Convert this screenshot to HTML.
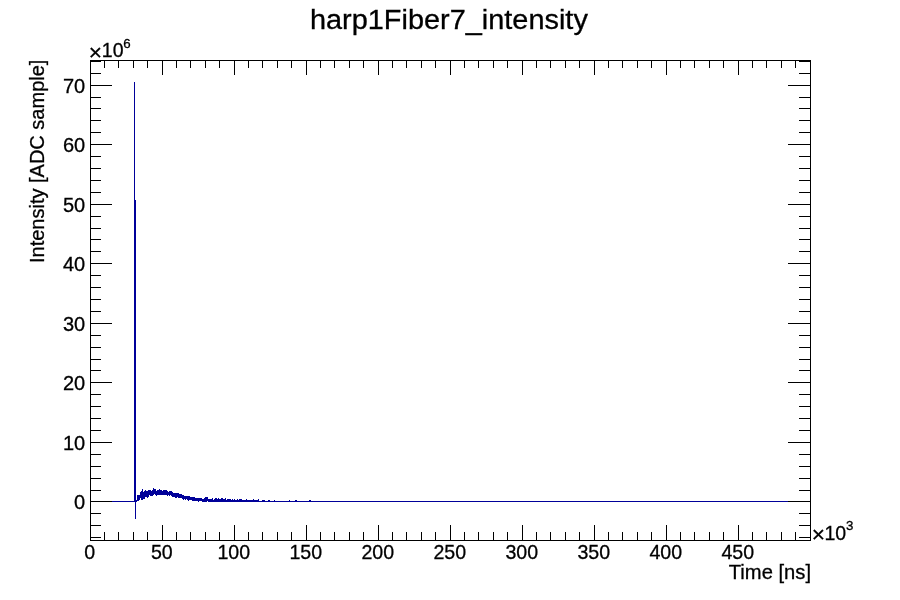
<!DOCTYPE html>
<html><head><meta charset="utf-8"><title>harp1Fiber7_intensity</title>
<style>
html,body{margin:0;padding:0;background:#fff;}
svg{display:block;}
text{font-family:"Liberation Sans",sans-serif;fill:#000;stroke:#000;stroke-width:0.3px;}
</style></head><body>
<svg width="900" height="600" viewBox="0 0 900 600">
<rect x="0" y="0" width="900" height="600" fill="#ffffff"/>
<path d="M90 501h44v1h-44zM134 82h1v420h-1zM135 200h1v319h-1zM136 500h1v2h-1zM137 495h2v6h-2zM139 495h1v5h-1zM140 492h1v6h-1zM141 491h1v9h-1zM142 489h1v11h-1zM143 492h1v7h-1zM144 491h1v8h-1zM145 490h1v7h-1zM146 491h1v6h-1zM147 491h1v7h-1zM148 490h1v7h-1zM149 490h1v5h-1zM150 490h1v6h-1zM151 491h1v5h-1zM152 490h1v6h-1zM153 488h1v7h-1zM154 489h1v5h-1zM155 489h1v6h-1zM156 491h1v5h-1zM157 490h2v5h-2zM159 489h1v6h-1zM160 490h2v5h-2zM162 491h1v4h-1zM163 490h4v5h-4zM167 491h1v5h-1zM168 492h1v3h-1zM169 491h1v5h-1zM170 491h1v4h-1zM171 491h1v5h-1zM172 492h1v5h-1zM173 493h2v4h-2zM175 493h2v5h-2zM177 493h1v4h-1zM178 493h1v5h-1zM179 494h3v4h-3zM182 495h1v4h-1zM183 495h1v5h-1zM184 496h1v3h-1zM185 496h1v4h-1zM186 496h1v3h-1zM187 496h1v4h-1zM188 496h1v5h-1zM189 496h1v4h-1zM190 497h2v3h-2zM192 497h3v4h-3zM195 498h3v3h-3zM198 498h1v4h-1zM199 498h3v3h-3zM202 499h2v3h-2zM204 498h1v4h-1zM205 497h2v5h-2zM207 497h1v4h-1zM208 499h4v3h-4zM212 498h1v4h-1zM213 500h1v2h-1zM214 499h1v3h-1zM215 498h2v4h-2zM217 499h1v3h-1zM218 498h1v4h-1zM219 499h2v3h-2zM221 498h2v4h-2zM223 499h2v3h-2zM225 498h1v4h-1zM226 500h1v2h-1zM227 499h4v3h-4zM231 500h1v2h-1zM232 499h1v3h-1zM233 500h1v2h-1zM234 499h1v3h-1zM235 500h2v2h-2zM237 499h1v3h-1zM238 500h1v2h-1zM239 499h3v3h-3zM242 500h4v2h-4zM246 499h1v3h-1zM247 500h6v2h-6zM253 499h1v3h-1zM254 500h4v2h-4zM258 499h1v3h-1zM259 501h3v1h-3zM262 500h3v2h-3zM265 501h3v1h-3zM268 500h2v2h-2zM270 501h4v1h-4zM274 500h1v2h-1zM275 501h14v1h-14zM289 500h1v2h-1zM290 501h5v1h-5zM295 500h2v2h-2zM297 501h12v1h-12zM309 500h2v2h-2zM311 501h500v1h-500z" fill="#000099" shape-rendering="crispEdges"/>
<path d="M90 60h721v1h-721zM90 540h721v1h-721zM90 60h1v481h-1zM810 60h1v481h-1zM90 525h1v15h-1zM90 61h1v14h-1zM104 532h1v8h-1zM104 61h1v7h-1zM118 532h1v8h-1zM118 61h1v7h-1zM133 532h1v8h-1zM133 61h1v7h-1zM147 532h1v8h-1zM147 61h1v7h-1zM162 525h1v15h-1zM162 61h1v14h-1zM176 532h1v8h-1zM176 61h1v7h-1zM190 532h1v8h-1zM190 61h1v7h-1zM205 532h1v8h-1zM205 61h1v7h-1zM219 532h1v8h-1zM219 61h1v7h-1zM234 525h1v15h-1zM234 61h1v14h-1zM248 532h1v8h-1zM248 61h1v7h-1zM262 532h1v8h-1zM262 61h1v7h-1zM277 532h1v8h-1zM277 61h1v7h-1zM291 532h1v8h-1zM291 61h1v7h-1zM306 525h1v15h-1zM306 61h1v14h-1zM320 532h1v8h-1zM320 61h1v7h-1zM334 532h1v8h-1zM334 61h1v7h-1zM349 532h1v8h-1zM349 61h1v7h-1zM363 532h1v8h-1zM363 61h1v7h-1zM378 525h1v15h-1zM378 61h1v14h-1zM392 532h1v8h-1zM392 61h1v7h-1zM406 532h1v8h-1zM406 61h1v7h-1zM421 532h1v8h-1zM421 61h1v7h-1zM435 532h1v8h-1zM435 61h1v7h-1zM450 525h1v15h-1zM450 61h1v14h-1zM464 532h1v8h-1zM464 61h1v7h-1zM478 532h1v8h-1zM478 61h1v7h-1zM493 532h1v8h-1zM493 61h1v7h-1zM507 532h1v8h-1zM507 61h1v7h-1zM522 525h1v15h-1zM522 61h1v14h-1zM536 532h1v8h-1zM536 61h1v7h-1zM550 532h1v8h-1zM550 61h1v7h-1zM565 532h1v8h-1zM565 61h1v7h-1zM579 532h1v8h-1zM579 61h1v7h-1zM594 525h1v15h-1zM594 61h1v14h-1zM608 532h1v8h-1zM608 61h1v7h-1zM622 532h1v8h-1zM622 61h1v7h-1zM637 532h1v8h-1zM637 61h1v7h-1zM651 532h1v8h-1zM651 61h1v7h-1zM666 525h1v15h-1zM666 61h1v14h-1zM680 532h1v8h-1zM680 61h1v7h-1zM694 532h1v8h-1zM694 61h1v7h-1zM709 532h1v8h-1zM709 61h1v7h-1zM723 532h1v8h-1zM723 61h1v7h-1zM738 525h1v15h-1zM738 61h1v14h-1zM752 532h1v8h-1zM752 61h1v7h-1zM766 532h1v8h-1zM766 61h1v7h-1zM781 532h1v8h-1zM781 61h1v7h-1zM795 532h1v8h-1zM795 61h1v7h-1zM90 537h11v1h-11zM799 537h12v1h-12zM90 525h11v1h-11zM799 525h12v1h-12zM90 513h11v1h-11zM799 513h12v1h-12zM90 501h22v1h-22zM788 501h23v1h-23zM90 490h11v1h-11zM799 490h12v1h-12zM90 478h11v1h-11zM799 478h12v1h-12zM90 466h11v1h-11zM799 466h12v1h-12zM90 454h11v1h-11zM799 454h12v1h-12zM90 442h22v1h-22zM788 442h23v1h-23zM90 430h11v1h-11zM799 430h12v1h-12zM90 418h11v1h-11zM799 418h12v1h-12zM90 406h11v1h-11zM799 406h12v1h-12zM90 394h11v1h-11zM799 394h12v1h-12zM90 382h22v1h-22zM788 382h23v1h-23zM90 370h11v1h-11zM799 370h12v1h-12zM90 359h11v1h-11zM799 359h12v1h-12zM90 347h11v1h-11zM799 347h12v1h-12zM90 335h11v1h-11zM799 335h12v1h-12zM90 323h22v1h-22zM788 323h23v1h-23zM90 311h11v1h-11zM799 311h12v1h-12zM90 299h11v1h-11zM799 299h12v1h-12zM90 287h11v1h-11zM799 287h12v1h-12zM90 275h11v1h-11zM799 275h12v1h-12zM90 263h22v1h-22zM788 263h23v1h-23zM90 251h11v1h-11zM799 251h12v1h-12zM90 239h11v1h-11zM799 239h12v1h-12zM90 228h11v1h-11zM799 228h12v1h-12zM90 216h11v1h-11zM799 216h12v1h-12zM90 204h22v1h-22zM788 204h23v1h-23zM90 192h11v1h-11zM799 192h12v1h-12zM90 180h11v1h-11zM799 180h12v1h-12zM90 168h11v1h-11zM799 168h12v1h-12zM90 156h11v1h-11zM799 156h12v1h-12zM90 144h22v1h-22zM788 144h23v1h-23zM90 132h11v1h-11zM799 132h12v1h-12zM90 120h11v1h-11zM799 120h12v1h-12zM90 108h11v1h-11zM799 108h12v1h-12zM90 97h11v1h-11zM799 97h12v1h-12zM90 85h22v1h-22zM788 85h23v1h-23zM90 73h11v1h-11zM799 73h12v1h-12zM90 61h11v1h-11zM799 61h12v1h-12z" fill="#000" shape-rendering="crispEdges"/>
<text transform="translate(448.9,28.6) scale(1.055,1)" font-size="27.4" text-anchor="middle">harp1Fiber7_intensity</text>
<text transform="translate(89.8,558.6) scale(0.98,1)" font-size="20.0" text-anchor="middle">0</text>
<text transform="translate(161.8,558.6) scale(0.98,1)" font-size="20.0" text-anchor="middle">50</text>
<text transform="translate(233.8,558.6) scale(0.98,1)" font-size="20.0" text-anchor="middle">100</text>
<text transform="translate(305.8,558.6) scale(0.98,1)" font-size="20.0" text-anchor="middle">150</text>
<text transform="translate(377.8,558.6) scale(0.98,1)" font-size="20.0" text-anchor="middle">200</text>
<text transform="translate(449.8,558.6) scale(0.98,1)" font-size="20.0" text-anchor="middle">250</text>
<text transform="translate(521.8,558.6) scale(0.98,1)" font-size="20.0" text-anchor="middle">300</text>
<text transform="translate(593.8,558.6) scale(0.98,1)" font-size="20.0" text-anchor="middle">350</text>
<text transform="translate(665.8,558.6) scale(0.98,1)" font-size="20.0" text-anchor="middle">400</text>
<text transform="translate(737.8,558.6) scale(0.98,1)" font-size="20.0" text-anchor="middle">450</text>
<text transform="translate(85.2,508.8) scale(1.0,1)" font-size="20.0" text-anchor="end">0</text>
<text transform="translate(85.2,449.8) scale(1.0,1)" font-size="20.0" text-anchor="end">10</text>
<text transform="translate(85.2,389.8) scale(1.0,1)" font-size="20.0" text-anchor="end">20</text>
<text transform="translate(85.2,330.8) scale(1.0,1)" font-size="20.0" text-anchor="end">30</text>
<text transform="translate(85.2,270.8) scale(1.0,1)" font-size="20.0" text-anchor="end">40</text>
<text transform="translate(85.2,211.8) scale(1.0,1)" font-size="20.0" text-anchor="end">50</text>
<text transform="translate(85.2,151.8) scale(1.0,1)" font-size="20.0" text-anchor="end">60</text>
<text transform="translate(85.2,92.8) scale(1.0,1)" font-size="20.0" text-anchor="end">70</text>
<text transform="translate(811.0,578.8) scale(0.99,1)" font-size="20.4" text-anchor="end">Time [ns]</text>
<text transform="translate(44.0,59.6) rotate(-90)" font-size="20.0" text-anchor="end">Intensity [ADC sample]</text>
<text transform="translate(811.7,541.9) scale(1.0,1)" font-size="22.7" text-anchor="start">×</text>
<text transform="translate(824.5,540) scale(0.975,1)" font-size="20.0" text-anchor="start">10</text>
<text transform="translate(846,530.0) scale(1.0,1)" font-size="13.3" text-anchor="start">3</text>
<text transform="translate(88.8,59.6) scale(1.0,1)" font-size="22.7" text-anchor="start">×</text>
<text transform="translate(101.8,56.8) scale(0.975,1)" font-size="20.0" text-anchor="start">10</text>
<text transform="translate(123.3,48.1) scale(1.0,1)" font-size="13.3" text-anchor="start">6</text>
</svg></body></html>
